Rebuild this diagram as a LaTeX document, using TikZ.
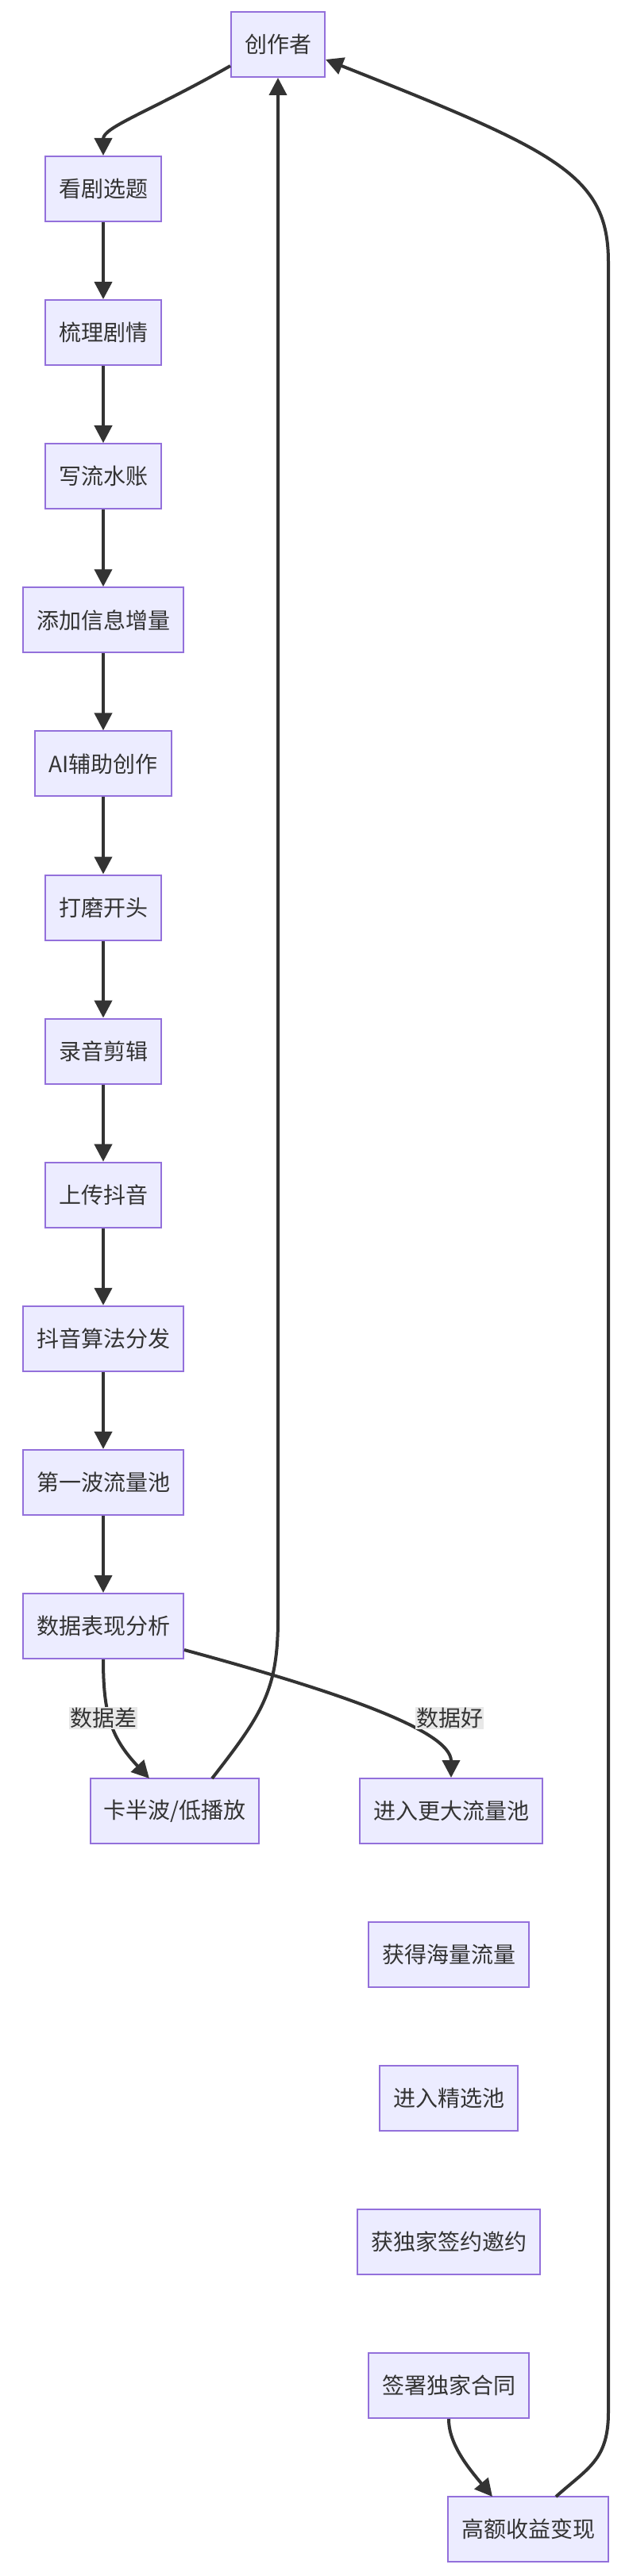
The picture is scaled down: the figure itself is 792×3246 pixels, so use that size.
\documentclass[tikz,border=0pt]{standalone}
\usepackage{fontspec}
\setmainfont{Noto Sans CJK SC}
\usetikzlibrary{arrows.meta}
\definecolor{nfill}{HTML}{ECECFF}
\definecolor{nborder}{HTML}{9370DB}
\definecolor{lnc}{HTML}{333333}
\definecolor{lbg}{HTML}{E8E8E8}
\begin{document}
\begin{tikzpicture}[x=1pt,y=-1pt,
  box/.style={draw=nborder,fill=nfill,line width=2pt,minimum height=82pt,inner xsep=17pt,font=\fontsize{28}{34}\selectfont,text=lnc},
  lab/.style={fill=lbg,inner sep=1pt,font=\fontsize{28}{34}\selectfont,text=lnc},
  ed/.style={draw=lnc,line width=4pt,-{Triangle[length=22pt,width=22pt]}}]
\useasboundingbox (0,0) rectangle (792,3246);
\node[box] (c) at (350,56) {创作者};
\foreach \n/\t [count=\k from 0] in {a/看剧选题,b/梳理剧情,d/写流水账,e/添加信息增量,f/AI辅助创作,g/打磨开头,h/录音剪辑,i/上传抖音,j/抖音算法分发,k/第一波流量池,l/数据表现分析}
  \node[box] (\n) at (130,{238+181.1*\k}) {\t};
\node[box] (m) at (220,2282) {卡半波/低播放};
\node[box] (p) at (568,2282) {进入更大流量池};
\node[box] (q) at (565,2463) {获得海量流量};
\node[box] (r) at (565,2644) {进入精选池};
\node[box] (s) at (565,2825) {获独家签约邀约};
\node[box] (t) at (565,3006) {签署独家合同};
\node[box] (u) at (665,3187) {高额收益变现};
\draw[ed] (c.west|-0,83) .. controls (190,140) and (130,160) .. (a.north);
\foreach \x/\y in {a/b,b/d,d/e,e/f,f/g,g/h,h/i,i/j,j/k,k/l}
  \draw[ed] (\x) -- (\y);
\coordinate (lx) at (130,2165);
\coordinate (gx) at (566,2165);
\draw[ed] (l.south) .. controls (130,2160) and (140,2190) .. (188,2241);
\draw[ed] (l.east|-0,2079) .. controls (420,2130) and (568,2180) .. (p.north);
\node[lab] at (lx) {数据差};
\node[lab] at (gx) {数据好};
\draw[ed] (267,2241) .. controls (330,2160) and (350,2130) .. (350,2040) -- (c.south);
\draw[ed] (t.south) .. controls (565,3080) and (590,3110) .. (620,3146);
\draw[ed] (700,3146) .. controls (740,3110) and (766,3100) .. (766,3040) -- (766,330) .. controls (766,220) and (700,190) .. (c.east|-0,75);
\end{tikzpicture}
\end{document}
